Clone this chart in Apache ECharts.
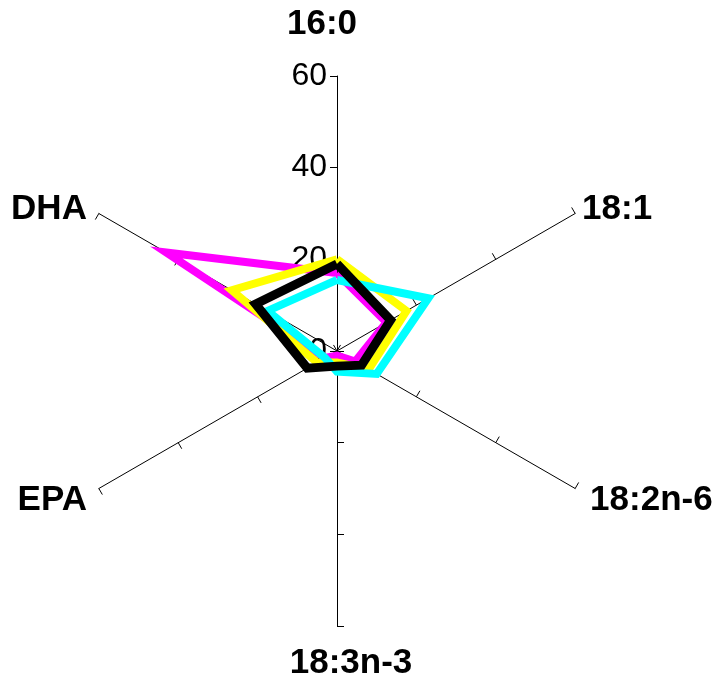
<!DOCTYPE html>
<html>
<head>
<meta charset="utf-8">
<script src="https://cdn.jsdelivr.net/npm/echarts@6/dist/echarts.min.js"></script>
<style>
html,body{margin:0;padding:0;background:#fff;}
#chart{width:718px;height:686px;}
</style>
</head>
<body>
<div id="chart"></div>
<script>
// Axes in clockwise order starting at the top
var categories = ['16:0', '18:1', '18:2n-6', '18:3n-3', 'EPA', 'DHA'];
var tickLabels = ['0', '20', '40', '60'];
var axisMax = 60;
var magentaValues = [17, 12.5, 4.6, 1, 3, 43];
var yellowValues  = [20, 17.5, 8, 2.5, 5, 26.5];
var cyanValues    = [15.5, 23, 10, 4.5, 3, 17.5];
var blackValues   = [19, 13.5, 6.2, 3.3, 7.5, 20.5];

// ECharts radar places indicators counter-clockwise: reorder
function ccw(arr) { return [arr[0]].concat(arr.slice(1).reverse()); }

var labelStyle = {
  show: true,
  color: '#000',
  fontFamily: 'Liberation Sans',
  fontSize: 32,
  margin: 10,
  formatter: function (v) {
    var idx = Math.round(v / 20);
    return tickLabels[idx] !== undefined ? tickLabels[idx] : '';
  }
};

var indicatorNames = ccw(categories);
var indicator = indicatorNames.map(function (n, i) {
  var ind = { name: n, min: 0, max: axisMax };
  if (i === 0) ind.axisLabel = labelStyle;
  return ind;
});

var richKey = {
  '16:0': 'top', '18:3n-3': 'bottom', 'EPA': 'lowLeft', '18:2n-6': 'lowRight', 'DHA': 'left'
};
var base = { fontSize: 35, fontWeight: 'bold', fontFamily: 'Liberation Sans', color: '#000' };
function rs(p) { return Object.assign({ padding: p }, base); }

var chart = echarts.init(document.getElementById('chart'));
var mk = function (name, vals, color, width) {
  return {
    type: 'radar',
    symbol: 'none',
    silent: true,
    data: [{ name: name, value: ccw(vals) }],
    lineStyle: { color: color, width: width, join: 'miter', miterLimit: 10 },
    itemStyle: { color: color }
  };
};
chart.setOption({
  animation: false,
  backgroundColor: '#ffffff',
  radar: {
    center: [337, 351],
    radius: 275,
    startAngle: 90,
    shape: 'polygon',
    splitNumber: 3,
    indicator: indicator,
    nameGap: 8,
    axisName: {
      color: '#000',
      fontFamily: 'Liberation Sans',
      fontWeight: 'bold',
      fontSize: 35,
      formatter: function (n) {
        var k = richKey[n];
        return k ? '{' + k + '|' + n + '}' : n;
      },
      rich: {
        top: rs([0, 30, 26, 0]),
        bottom: rs([12, 0, 0, 28]),
        lowLeft: rs([16, 5, 0, 0]),
        lowRight: rs([16, 0, 0, 8]),
        left: rs([0, 5, 0, 0])
      }
    },
    axisLine: { show: true, lineStyle: { color: '#000', width: 1 } },
    axisTick: { show: true, length: 7, lineStyle: { color: '#000', width: 1 } },
    axisLabel: { show: false },
    splitLine: { show: false },
    splitArea: { show: false }
  },
  series: [
    mk('magenta', magentaValues, '#ff00ff', 8),
    mk('yellow', yellowValues, '#ffff00', 8),
    mk('cyan', cyanValues, '#00ffff', 8),
    mk('black', blackValues, '#000000', 9)
  ]
});
</script>
</body>
</html>
